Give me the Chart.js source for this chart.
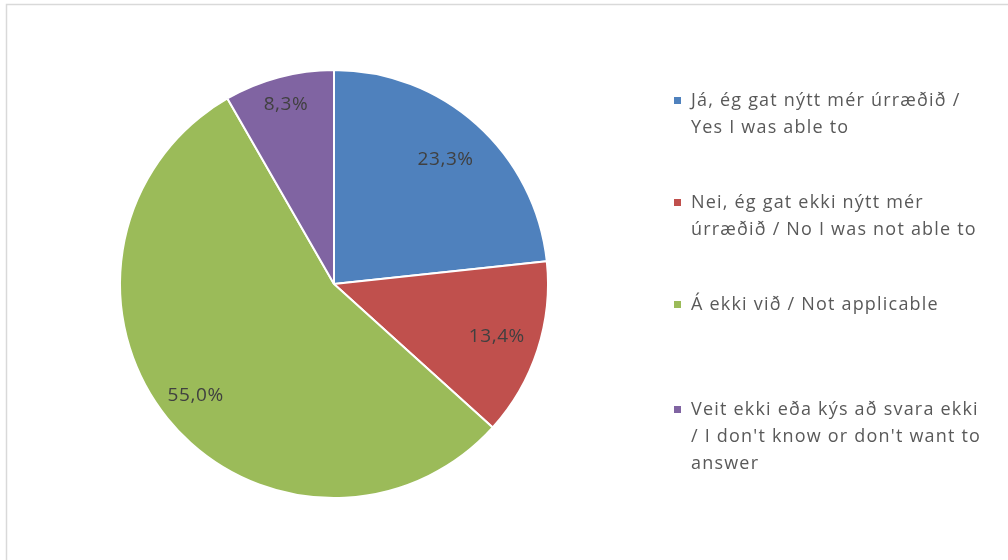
<!DOCTYPE html>
<html>
<head>
<meta charset="utf-8">
<script src="https://cdn.jsdelivr.net/npm/chart.js@4"></script>
<style>
  html, body { margin: 0; padding: 0; background: #fff; }
  #wrap { width: 1008px; height: 560px; position: relative; }
</style>
</head>
<body>
<div id="wrap"><canvas id="pieChart" width="1008" height="560"></canvas></div>
<script>
const categories = [
    ['Já, ég gat nýtt mér úrræðið /', 'Yes I was able to'],
    ['Nei, ég gat ekki nýtt mér', 'úrræðið / No I was not able to'],
    ['Á ekki við / Not applicable'],
    ['Veit ekki eða kýs að svara ekki', '/ I don\'t know or don\'t want to', 'answer']
];
const shares = [23.3, 13.4, 55.0, 8.3];
const sliceColors = ['#4F81BD', '#C0504D', '#9BBB59', '#8064A2'];
const legendTops = [101, 203, 305, 410];
const labelRadius = [0.78, 0.8, 0.83, 0.87];

// light frame around the plot, like the exported image
const framePlugin = {
    id: 'frame',
    beforeDraw(chart) {
        const ctx = chart.ctx;
        ctx.save();
        ctx.strokeStyle = '#d9d9d9';
        ctx.lineWidth = 1.5;
        ctx.strokeRect(6.5, 4.5, 1100, 600);
        ctx.restore();
    }
};

// percent labels inside slices
const sliceLabels = {
    id: 'sliceLabels',
    afterDatasetsDraw(chart) {
        const ctx = chart.ctx;
        const meta = chart.getDatasetMeta(0);
        ctx.save();
        ctx.font = '19px "Open Sans", sans-serif';
        ctx.letterSpacing = '0.6px';
        ctx.fillStyle = '#404040';
        ctx.textAlign = 'center';
        ctx.textBaseline = 'middle';
        meta.data.forEach((arc, i) => {
            const { x, y, startAngle, endAngle, outerRadius } = arc.getProps(['x', 'y', 'startAngle', 'endAngle', 'outerRadius'], true);
            const mid = (startAngle + endAngle) / 2;
            const r = outerRadius * labelRadius[i];
            const txt = shares[i].toFixed(1).replace('.', ',') + '%';
            ctx.fillText(txt, x + Math.cos(mid) * r, y + Math.sin(mid) * r);
        });
        ctx.restore();
    }
};

// legend on the right, wrapped like the original
const sideLegend = {
    id: 'sideLegend',
    afterDraw(chart) {
        const ctx = chart.ctx;
        ctx.save();
        ctx.font = '18px "Open Sans", sans-serif';
        ctx.letterSpacing = '1.2px';
        ctx.textBaseline = 'middle';
        categories.forEach((lines, i) => {
            const top = legendTops[i];
            ctx.fillStyle = sliceColors[i];
            ctx.fillRect(674, top - 4, 7, 7);
            ctx.fillStyle = '#595959';
            lines.forEach((ln, j) => {
                ctx.fillText(ln, 691, top + j * 27);
            });
        });
        ctx.restore();
    }
};

new Chart(document.getElementById('pieChart'), {
    type: 'pie',
    data: {
        labels: categories.map(c => c.join(' ')),
        datasets: [{
            data: shares,
            backgroundColor: sliceColors,
            borderColor: '#ffffff',
            borderWidth: 2
        }]
    },
    options: {
        responsive: false,
        animation: false,
        layout: { padding: { top: 69, bottom: 61, left: 119, right: 459 } },
        plugins: {
            legend: { display: false },
            tooltip: { enabled: false }
        }
    },
    plugins: [framePlugin, sliceLabels, sideLegend]
});
</script>
</body>
</html>
